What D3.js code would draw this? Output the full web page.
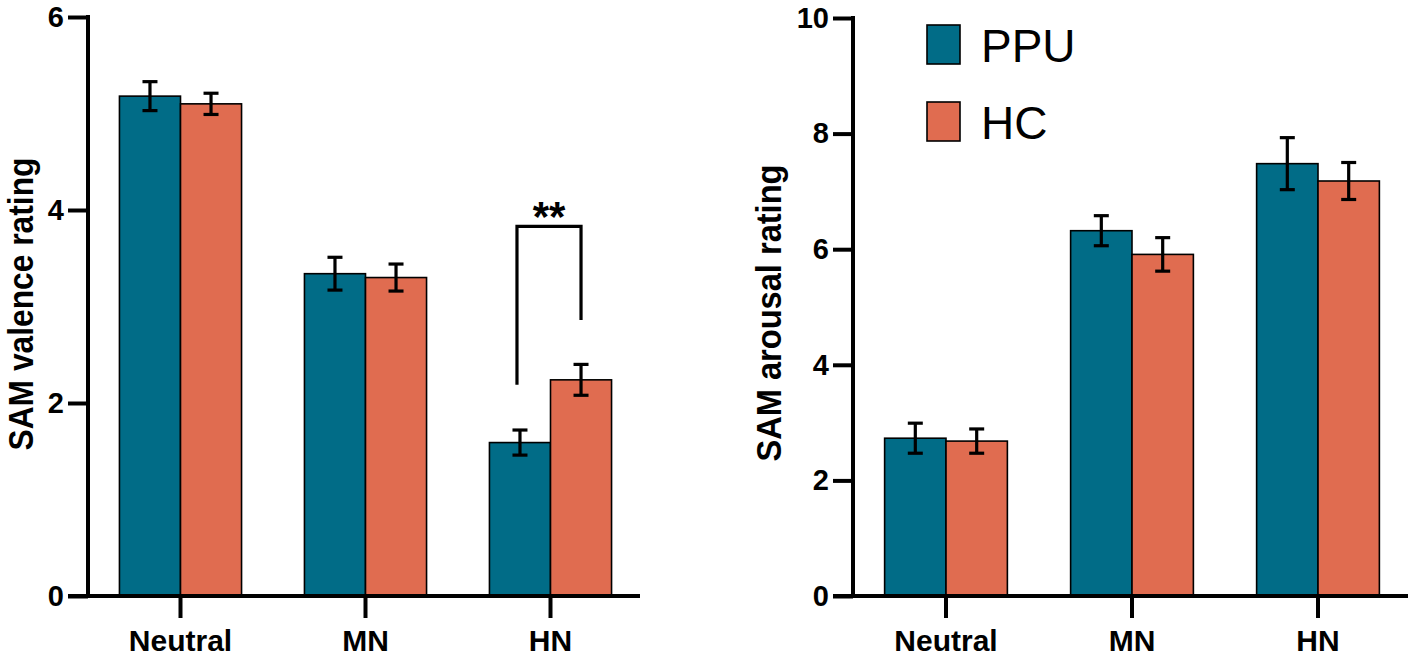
<!DOCTYPE html>
<html>
<head>
<meta charset="utf-8">
<script src="https://cdn.jsdelivr.net/npm/d3@7"></script>
<style>
  body { margin: 0; background: #fff; }
  svg { display: block; font-family: "Liberation Sans", Arial, sans-serif; }
</style>
</head>
<body>
<svg id="chart" width="1417" height="660"></svg>
<script>
// data
const categories = ["Neutral", "MN", "HN"];
const groups = ["PPU", "HC"];

const valenceMean = { PPU: [5.18, 3.34, 1.59], HC: [5.10, 3.30, 2.24] };
const valenceSem  = { PPU: [0.15, 0.17, 0.13], HC: [0.11, 0.14, 0.16] };
const arousalMean = { PPU: [2.73, 6.32, 7.48], HC: [2.68, 5.91, 7.18] };
const arousalSem  = { PPU: [0.26, 0.26, 0.45], HC: [0.21, 0.29, 0.32] };

const valenceTicks = [0, 2, 4, 6];
const arousalTicks = [0, 2, 4, 6, 8, 10];

const colors = { PPU: "#016c87", HC: "#e06c50" };

const svg = d3.select("#chart");

// Draw one bar panel
function drawPanel(opts) {
  const g = svg.append("g");

  const x = d3.scaleBand(categories, [opts.x0, opts.x1])
    .paddingInner(0.34).paddingOuter(0.17);
  const xg = d3.scaleBand(groups, [0, x.bandwidth()]);
  const y = d3.scaleLinear([0, opts.max], [opts.y0, opts.y1]);

  // bars
  categories.forEach((cat, i) => {
    groups.forEach(grp => {
      const v = opts.mean[grp][i];
      g.append("rect")
        .attr("x", x(cat) + xg(grp))
        .attr("y", y(v))
        .attr("width", xg.bandwidth())
        .attr("height", y(0) - y(v))
        .attr("fill", colors[grp])
        .attr("stroke", "#000")
        .attr("stroke-width", 1.6);
    });
  });

  // error bars
  categories.forEach((cat, i) => {
    groups.forEach(grp => {
      const v = opts.mean[grp][i], s = opts.sem[grp][i];
      const cx = x(cat) + xg(grp) + xg.bandwidth() / 2;
      const eb = g.append("g").attr("stroke", "#000").attr("stroke-width", 3.2);
      eb.append("line").attr("x1", cx).attr("x2", cx).attr("y1", y(v + s)).attr("y2", y(v - s));
      eb.append("line").attr("x1", cx - 7.5).attr("x2", cx + 7.5).attr("y1", y(v + s)).attr("y2", y(v + s));
      eb.append("line").attr("x1", cx - 7.5).attr("x2", cx + 7.5).attr("y1", y(v - s)).attr("y2", y(v - s));
    });
  });

  // y axis
  const yAxis = g.append("g")
    .attr("transform", `translate(${opts.x0},0)`)
    .call(d3.axisLeft(y).tickValues(opts.ticks).tickFormat(d3.format("d"))
      .tickSize(20).tickSizeOuter(0).tickPadding(4));
  yAxis.select(".domain").attr("stroke-width", 4).attr("d", `M0,${y(0)}V${y(opts.max) - 2}`);
  yAxis.selectAll(".tick line").attr("stroke-width", 4);
  yAxis.selectAll(".tick text")
    .attr("font-size", 29).attr("font-weight", "bold").attr("fill", "#000")
    .attr("font-family", "Liberation Sans, Arial, sans-serif");

  // x axis
  const xAxis = g.append("g")
    .attr("transform", `translate(0,${y(0)})`)
    .call(d3.axisBottom(x).tickSize(22).tickSizeOuter(0).tickPadding(12));
  xAxis.select(".domain").attr("stroke-width", 4).attr("d", `M${opts.x0 - 20},0H${opts.x1 - 3}`);
  xAxis.selectAll(".tick line").attr("stroke-width", 4);
  xAxis.selectAll(".tick text")
    .attr("font-size", 30).attr("font-weight", "bold").attr("fill", "#000")
    .attr("font-family", "Liberation Sans, Arial, sans-serif");

  // axis title
  g.append("text")
    .attr("transform", `translate(${opts.labelX},${opts.labelY}) rotate(-90)`)
    .attr("text-anchor", "middle")
    .attr("font-size", 35).attr("font-weight", "bold")
    .attr("textLength", opts.labelLen).attr("lengthAdjust", "spacingAndGlyphs")
    .text(opts.title);

  return { x, xg, y, g };
}

const left = drawPanel({
  x0: 88, x1: 643, y0: 596, y1: 17, max: 6,
  mean: valenceMean, sem: valenceSem, ticks: valenceTicks,
  title: "SAM valence rating", labelX: 33, labelY: 304, labelLen: 293
});

const right = drawPanel({
  x0: 853, x1: 1411, y0: 596, y1: 18, max: 10,
  mean: arousalMean, sem: arousalSem, ticks: arousalTicks,
  title: "SAM arousal rating", labelX: 781, labelY: 313, labelLen: 297
});

// significance bracket, HN valence
{
  const { x, xg, y, g } = left;
  const xa = x("HN") + xg("PPU") + xg.bandwidth() / 2 - 3;
  const xb = x("HN") + xg("HC") + xg.bandwidth() / 2;
  const top = y(3.83);
  g.append("path")
    .attr("d", `M${xa},${y(2.19)}V${top}H${xb}V${y(2.86)}`)
    .attr("fill", "none").attr("stroke", "#000").attr("stroke-width", 3.2);
  g.append("text")
    .attr("x", (xa + xb) / 2).attr("y", top + 5)
    .attr("text-anchor", "middle")
    .attr("font-size", 42).attr("font-weight", "bold")
    .text("**");
}

// legend
const legend = svg.append("g").attr("transform", "translate(927,25)");
groups.forEach((grp, i) => {
  const row = legend.append("g").attr("transform", `translate(0,${i * 77})`);
  row.append("rect")
    .attr("width", 33).attr("height", 39)
    .attr("fill", colors[grp]).attr("stroke", "#000").attr("stroke-width", 1.6);
  row.append("text")
    .attr("x", 54).attr("y", 37)
    .attr("font-size", 46)
    .text(grp);
});
</script>
</body>
</html>
